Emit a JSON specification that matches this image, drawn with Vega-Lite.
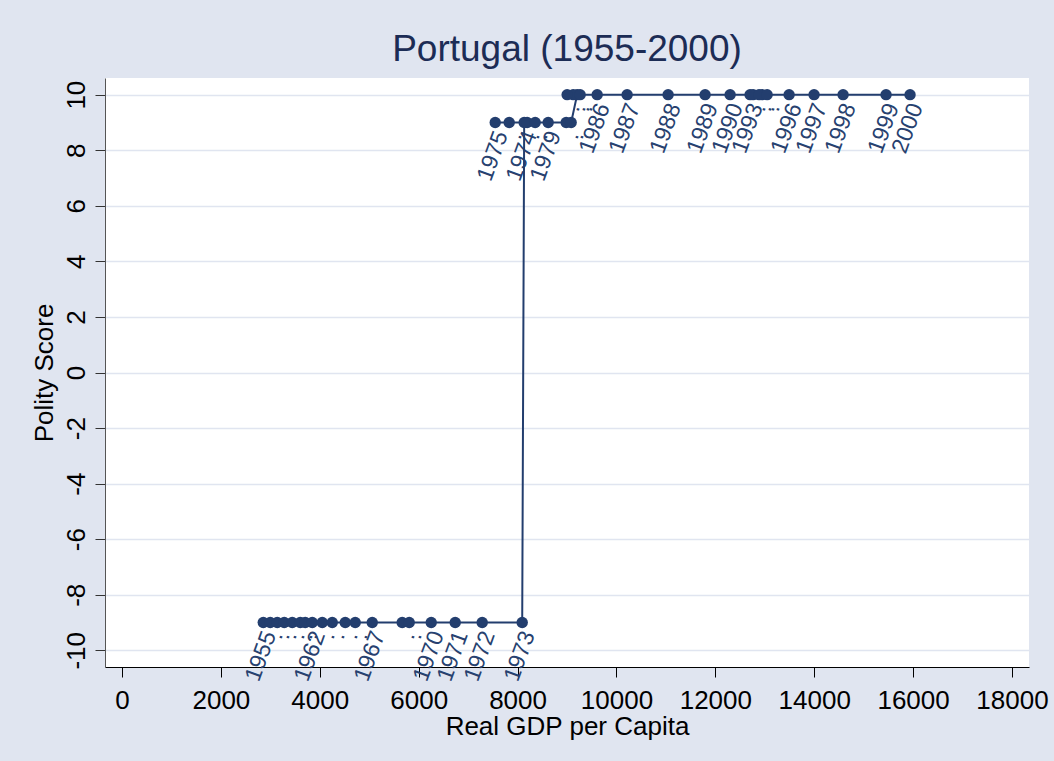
{
  "$schema": "https://vega.github.io/schema/vega-lite/v6.json",
  "width": 924,
  "height": 589,
  "autosize": {"type": "none"},
  "padding": {"left": 105, "top": 78, "right": 25, "bottom": 94},
  "background": "#e0e5f0",
  "config": {
    "font": "Liberation Sans",
    "view": {"fill": "white", "stroke": null}
  },
  "title": {
    "text": "Portugal (1955-2000)",
    "fontSize": 37,
    "fontWeight": "normal",
    "color": "#1c2c55",
    "anchor": "middle",
    "frame": "group",
    "baseline": "bottom",
    "offset": 7,
    "dy": 35
  },
  "data": {
    "values": [
      {"year": 1955, "gdp": 2857, "polity": -9, "lab": "1955"},
      {"year": 1956, "gdp": 2998, "polity": -9, "lab": "."},
      {"year": 1957, "gdp": 3140, "polity": -9, "lab": "."},
      {"year": 1958, "gdp": 3281, "polity": -9, "lab": "."},
      {"year": 1959, "gdp": 3443, "polity": -9, "lab": "."},
      {"year": 1960, "gdp": 3605, "polity": -9, "lab": "."},
      {"year": 1961, "gdp": 3706, "polity": -9, "lab": "."},
      {"year": 1962, "gdp": 3848, "polity": -9, "lab": "1962"},
      {"year": 1963, "gdp": 4050, "polity": -9, "lab": "."},
      {"year": 1964, "gdp": 4252, "polity": -9, "lab": "."},
      {"year": 1965, "gdp": 4515, "polity": -9, "lab": "."},
      {"year": 1966, "gdp": 4717, "polity": -9, "lab": "."},
      {"year": 1967, "gdp": 5061, "polity": -9, "lab": "1967"},
      {"year": 1968, "gdp": 5667, "polity": -9, "lab": "."},
      {"year": 1969, "gdp": 5809, "polity": -9, "lab": "."},
      {"year": 1970, "gdp": 6254, "polity": -9, "lab": "1970"},
      {"year": 1971, "gdp": 6739, "polity": -9, "lab": "1971"},
      {"year": 1972, "gdp": 7285, "polity": -9, "lab": "1972"},
      {"year": 1973, "gdp": 8094, "polity": -9, "lab": "1973"},
      {"year": 1974, "gdp": 8134, "polity": 9, "lab": "1974"},
      {"year": 1975, "gdp": 7548, "polity": 9, "lab": "1975"},
      {"year": 1976, "gdp": 7831, "polity": 9, "lab": "."},
      {"year": 1977, "gdp": 8194, "polity": 9, "lab": "."},
      {"year": 1978, "gdp": 8356, "polity": 9, "lab": "."},
      {"year": 1979, "gdp": 8619, "polity": 9, "lab": "1979"},
      {"year": 1980, "gdp": 8983, "polity": 9, "lab": "."},
      {"year": 1981, "gdp": 9084, "polity": 9, "lab": "."},
      {"year": 1982, "gdp": 9205, "polity": 10, "lab": "."},
      {"year": 1983, "gdp": 9125, "polity": 10, "lab": "."},
      {"year": 1984, "gdp": 9003, "polity": 10, "lab": "."},
      {"year": 1985, "gdp": 9266, "polity": 10, "lab": "."},
      {"year": 1986, "gdp": 9610, "polity": 10, "lab": "1986"},
      {"year": 1987, "gdp": 10216, "polity": 10, "lab": "1987"},
      {"year": 1988, "gdp": 11045, "polity": 10, "lab": "1988"},
      {"year": 1989, "gdp": 11793, "polity": 10, "lab": "1989"},
      {"year": 1990, "gdp": 12299, "polity": 10, "lab": "1990"},
      {"year": 1991, "gdp": 12764, "polity": 10, "lab": "."},
      {"year": 1992, "gdp": 12946, "polity": 10, "lab": "."},
      {"year": 1993, "gdp": 12703, "polity": 10, "lab": "1993"},
      {"year": 1994, "gdp": 12885, "polity": 10, "lab": "."},
      {"year": 1995, "gdp": 13047, "polity": 10, "lab": "."},
      {"year": 1996, "gdp": 13492, "polity": 10, "lab": "1996"},
      {"year": 1997, "gdp": 13997, "polity": 10, "lab": "1997"},
      {"year": 1998, "gdp": 14584, "polity": 10, "lab": "1998"},
      {"year": 1999, "gdp": 15453, "polity": 10, "lab": "1999"},
      {"year": 2000, "gdp": 15938, "polity": 10, "lab": "2000"}
    ]
  },
  "encoding": {
    "x": {
      "field": "gdp",
      "type": "quantitative",
      "scale": {"domain": [-344, 18344], "nice": false, "zero": false},
      "axis": {
        "title": "Real GDP per Capita",
        "values": [0, 2000, 4000, 6000, 8000, 10000, 12000, 14000, 16000, 18000],
        "labelExpr": "'' + datum.value",
        "grid": false,
        "domainColor": "#000000",
        "tickColor": "#000000",
        "tickSize": 10,
        "labelFontSize": 26,
        "labelColor": "#000000",
        "labelBaseline": "alphabetic",
        "labelPadding": 31,
        "labelFlush": false,
        "labelOverlap": false,
        "titleFontSize": 26,
        "titleFontWeight": "normal",
        "titleColor": "#000000",
        "titleBaseline": "alphabetic",
        "titleX": 462,
        "titleY": 67
      }
    },
    "y": {
      "field": "polity",
      "type": "quantitative",
      "scale": {"domain": [-10.6, 10.6], "nice": false, "zero": false},
      "axis": {
        "title": "Polity Score",
        "values": [-10, -8, -6, -4, -2, 0, 2, 4, 6, 8, 10],
        "labelExpr": "'' + datum.value",
        "grid": true,
        "gridColor": "#e0e5f0",
        "gridWidth": 1.5,
        "domainColor": "#555555",
        "tickColor": "#333333",
        "tickSize": 10,
        "labelFontSize": 26,
        "labelColor": "#000000",
        "labelAngle": 270,
        "labelAlign": "center",
        "labelBaseline": "alphabetic",
        "labelPadding": 11,
        "labelOverlap": false,
        "labelFlush": false,
        "titleFontSize": 26,
        "titleFontWeight": "normal",
        "titleColor": "#000000",
        "titleAngle": 270,
        "titleAlign": "center",
        "titleBaseline": "alphabetic",
        "titleX": -53,
        "titleY": 294.5
      }
    }
  },
  "layer": [
    {
      "data": {"values": [{}]},
      "mark": {"type": "rule", "color": "#c8102e", "strokeWidth": 2},
      "encoding": {"x": null, "y": {"datum": 0, "type": "quantitative"}}
    },
    {
      "mark": {
        "type": "text",
        "angle": 290,
        "align": "right",
        "baseline": "alphabetic",
        "fontSize": 23,
        "color": "#27416f",
        "xOffset": 13,
        "yOffset": 12
      },
      "encoding": {"text": {"field": "lab"}}
    },
    {
      "mark": {"type": "line", "color": "#233e6e", "strokeWidth": 2},
      "encoding": {"order": {"field": "year"}}
    },
    {
      "mark": {"type": "point", "filled": true, "opacity": 1, "size": 130, "color": "#233e6e"},
      "encoding": {}
    }
  ]
}
